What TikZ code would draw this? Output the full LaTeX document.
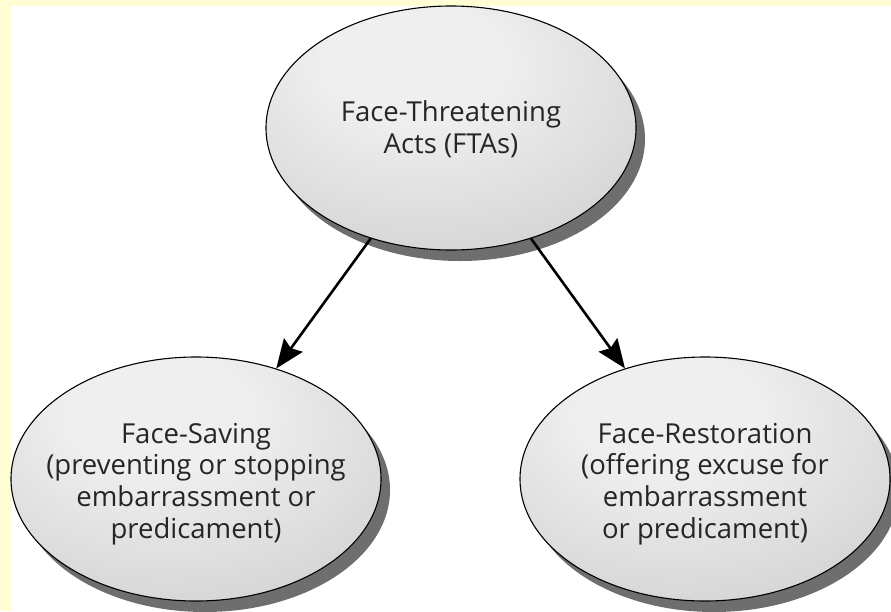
\documentclass[tikz,border=0pt]{standalone}
\usepackage{fontspec}
\setmainfont{Open Sans}
\usetikzlibrary{shapes.geometric,arrows.meta,shadows}
\definecolor{bgyellow}{HTML}{FFFDD4}
\definecolor{ellin}{HTML}{EFEFEF}
\definecolor{ellout}{HTML}{B9B9B9}
\definecolor{shadowgray}{HTML}{6E6E6E}
\definecolor{textgray}{HTML}{262626}
\pgfdeclareradialshading{ellshade}{\pgfpoint{-6bp}{16bp}}{%
  color(0bp)=(ellin); color(12bp)=(ellin); color(62bp)=(ellout); color(80bp)=(ellout)}
\tikzset{
  bubble/.style={ellipse, draw=black, line width=1.1pt, shading=ellshade,
    minimum width=370pt, minimum height=244pt, inner sep=0pt,
    drop shadow={shadow xshift=9pt, shadow yshift=-11pt, fill=shadowgray, opacity=1}},
  bubbletext/.style={align=center, text=textgray, inner sep=0pt,
    font=\fontsize{27.5}{31.7}\selectfont},
  arr/.style={line width=2.6pt, draw=black,
    -{Stealth[length=29pt, width=23pt, inset=4pt]}}
}
\begin{document}
\begin{tikzpicture}[x=1pt, y=-1pt]
  \fill[bgyellow] (0,0) rectangle (891,611);
  \fill[white] (11,6) rectangle (891,611);
  \useasboundingbox (0,0) rectangle (891,611);
  \node[bubble, label={[bubbletext, yshift=-1pt]center:{Face-Threatening\\Acts (FTAs)}}] (fta) at (451,128) {};
  \node[bubble, label={[bubbletext, yshift=-5pt]center:{Face-Saving\\(preventing or stopping\\embarrassment or\\predicament)}}] (save) at (196,479) {};
  \node[bubble, label={[bubbletext, yshift=-5pt]center:{Face-Restoration\\(offering excuse for\\embarrassment\\or predicament)}}] (rest) at (705,479) {};
  \draw[arr] (fta) -- (save);
  \draw[arr] (fta) -- (rest);
\end{tikzpicture}
\end{document}
